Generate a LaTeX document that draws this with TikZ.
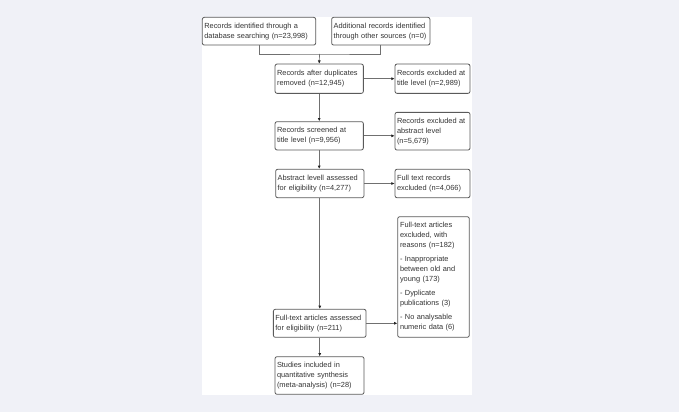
\documentclass[tikz,border=0pt]{standalone}
\usepackage{fontspec}
\setmainfont{Liberation Sans}
\usetikzlibrary{arrows.meta}
\definecolor{pagebg}{HTML}{F0F1F7}
\definecolor{boxline}{HTML}{5A5A5A}
\definecolor{connline}{HTML}{707070}
\definecolor{tipcol}{HTML}{222222}
\definecolor{txt}{HTML}{333333}
\begin{document}
\begin{tikzpicture}[x=1pt,y=-1pt,
  box/.style={draw=boxline, line width=0.8pt, rounded corners=2pt, fill=white,
    inner xsep=2pt, inner ysep=1pt, align=left, text=txt,
    font=\fontsize{7.4pt}{10pt}\selectfont},
  conn/.style={draw=connline, line width=0.7pt},
  arr/.style={conn, -{Latex[length=3.2pt,width=3pt,color=tipcol]}}]
\useasboundingbox (0,0) rectangle (679,412);
\fill[pagebg] (0,0) rectangle (679,412);
\fill[white] (202,17) rectangle (472,395);
% boxes
\node[box, minimum width=113.4pt, minimum height=27.7pt, text width=109.4pt] (b1) at (259,31.2)
  {Records identified through a\\database searching (n=23,998)};
\node[box, minimum width=98.3pt, minimum height=27.7pt, text width=94.3pt] (b2) at (380.8,31.2)
  {Additional records identified\\through other sources (n=0)};
\node[box, minimum width=88.3pt, minimum height=29.3pt, text width=84.3pt] (b3) at (319.2,78.7)
  {Records after duplicates\\removed (n=12,945)};
\node[box, minimum width=75pt, minimum height=29.3pt, text width=71pt] (b4) at (432.5,78.7)
  {Records excluded at\\title level (n=2,989)};
\node[box, minimum width=88.3pt, minimum height=28.3pt, text width=84.3pt] (b5) at (319.2,135.8)
  {Records screened at\\title level (n=9,956)};
\node[box, minimum width=75pt, minimum height=37.7pt, text width=71pt] (b6) at (432.5,131.2)
  {Records excluded at\\abstract level\\(n=5,679)};
\node[box, minimum width=88.3pt, minimum height=28.4pt, text width=84.3pt] (b7) at (319.8,183.5)
  {Abstract levell assessed\\for eligibility (n=4,277)};
\node[box, minimum width=75pt, minimum height=28.4pt, text width=71pt] (b8) at (432.5,183.5)
  {Full text records\\excluded (n=4,066)};
\node[box, minimum width=71.6pt, minimum height=120.6pt, text width=67pt, inner xsep=2.3pt] (b9) at (433.5,277)
  {Full-text articles\\excluded, with\\reasons (n=182)\\[4pt]- Inappropriate\\between old and\\young (173)\\[4pt]- Dyplicate\\publications (3)\\[4pt]- No analysable\\numeric data (6)};
\node[box, minimum width=92.7pt, minimum height=28pt, text width=88.7pt] (b10) at (319.7,323.3)
  {Full-text articles assessed\\for eligibility (n=211)};
\node[box, minimum width=89pt, minimum height=37.6pt, text width=85pt] (b11) at (319.5,375.5)
  {Studies included in\\quantitative synthesis\\(meta-analysis) (n=28)};
% connectors
\coordinate (m) at (319.5,54);
\draw[conn] (b1.south) |- (m) -| (b2.south);
\draw[arr] (m) -- (b3.north);
\draw[arr] (b3.east) -- (b3.east -| b4.west);
\draw[arr] (b3.south) -- (b3.south |- b5.north);
\draw[arr] (b5.east) -- (b5.east -| b6.west);
\draw[arr] (b5.south) -- (b5.south |- b7.north);
\draw[arr] (b7.east) -- (b7.east -| b8.west);
\draw[arr] (b7.south) -- (b7.south |- b10.north);
\draw[arr] (b10.east) -- (b10.east -| b9.west);
\draw[arr] (b10.south) -- (b10.south |- b11.north);
\end{tikzpicture}
\end{document}
